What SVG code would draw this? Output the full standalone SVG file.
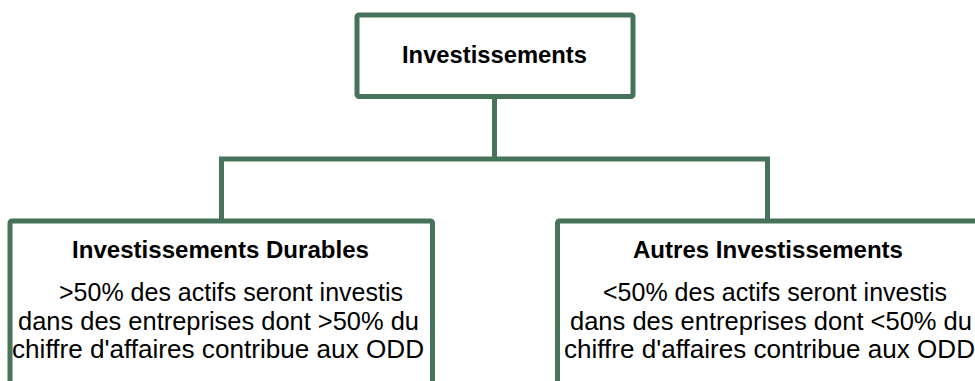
<svg xmlns="http://www.w3.org/2000/svg" width="975" height="381" viewBox="0 0 975 381">
<style>
.box{fill:#ffffff;stroke:#46735A;stroke-width:5}
.conn{fill:none;stroke:#46735A;stroke-width:5;stroke-linejoin:miter}
.t{font-family:"Liberation Sans",Arial,sans-serif;fill:#000000}
.b{font-weight:bold;font-size:24px}
.r{font-size:25px}
</style>
<rect width="975" height="381" fill="#ffffff"/>
<g id="connectors">
<path class="conn" d="M494.5 97 V159"/>
<path class="conn" d="M221.5 221 V159 H767.5 V221"/>
</g>
<g id="node-top">
<rect class="box" x="357" y="15" width="276" height="81.5" rx="2"/>
<text class="t b" x="402" y="63" textLength="185" lengthAdjust="spacingAndGlyphs">Investissements</text>
</g>
<g id="node-durables">
<rect class="box" x="10" y="221" width="422.5" height="180" rx="2"/>
<text class="t b" x="72" y="258" textLength="297" lengthAdjust="spacingAndGlyphs">Investissements Durables</text>
<text class="t r" x="59" y="301" textLength="344" lengthAdjust="spacingAndGlyphs">&gt;50% des actifs seront investis</text>
<text class="t r" x="18" y="329.5" textLength="401" lengthAdjust="spacingAndGlyphs">dans des entreprises dont &gt;50% du</text>
<text class="t r" x="12" y="358" textLength="412" lengthAdjust="spacingAndGlyphs">chiffre d'affaires contribue aux ODD</text>
</g>
<g id="node-autres">
<rect class="box" x="557.5" y="221" width="422.5" height="180" rx="2"/>
<text class="t b" x="633" y="258" textLength="270" lengthAdjust="spacingAndGlyphs">Autres Investissements</text>
<text class="t r" x="603" y="301" textLength="344" lengthAdjust="spacingAndGlyphs">&lt;50% des actifs seront investis</text>
<text class="t r" x="570" y="329.5" textLength="402" lengthAdjust="spacingAndGlyphs">dans des entreprises dont &lt;50% du</text>
<text class="t r" x="564" y="358" textLength="411" lengthAdjust="spacingAndGlyphs">chiffre d'affaires contribue aux ODD</text>
</g>
</svg>
